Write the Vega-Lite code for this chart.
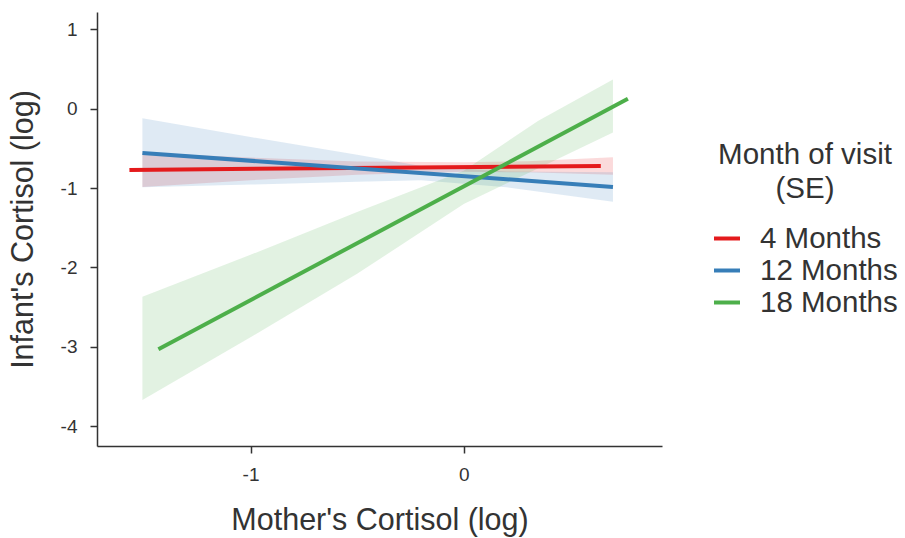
{
  "$schema": "https://vega.github.io/schema/vega-lite/v6.json",
  "autosize": {"type": "none"},
  "padding": {"left": 97, "top": 12, "right": 243, "bottom": 92},
  "width": 565,
  "height": 434,
  "background": "white",
  "config": {
    "font": "Liberation Sans",
    "view": {"stroke": null},
    "axis": {
      "grid": false,
      "domainColor": "#333333",
      "domainWidth": 1.5,
      "tickColor": "#333333",
      "tickWidth": 1.5,
      "tickSize": 7,
      "labelColor": "#333333",
      "labelFontSize": 19,
      "titleColor": "#333333",
      "titleFontSize": 30.5,
      "titleFontWeight": "normal"
    }
  },
  "datasets": {
    "lines": [
      {"month": "4 Months", "x": -1.568, "y": -0.77},
      {"month": "4 Months", "x": 0.643, "y": -0.72},
      {"month": "12 Months", "x": -1.507, "y": -0.556},
      {"month": "12 Months", "x": 0.70, "y": -0.985},
      {"month": "18 Months", "x": -1.432, "y": -3.03},
      {"month": "18 Months", "x": 0.77, "y": 0.126}
    ],
    "bands": [
      {"visit": "4 Months", "x": -1.507, "lo": -0.985, "hi": -0.555},
      {"visit": "4 Months", "x": -1.0, "lo": -0.90, "hi": -0.615},
      {"visit": "4 Months", "x": -0.5, "lo": -0.83, "hi": -0.665},
      {"visit": "4 Months", "x": 0.0, "lo": -0.795, "hi": -0.675},
      {"visit": "4 Months", "x": 0.3, "lo": -0.80, "hi": -0.66},
      {"visit": "4 Months", "x": 0.70, "lo": -0.83, "hi": -0.61},
      {"visit": "12 Months", "x": -1.507, "lo": -0.99, "hi": -0.12},
      {"visit": "12 Months", "x": -1.0, "lo": -0.955, "hi": -0.355},
      {"visit": "12 Months", "x": -0.5, "lo": -0.92, "hi": -0.58},
      {"visit": "12 Months", "x": -0.2, "lo": -0.90, "hi": -0.72},
      {"visit": "12 Months", "x": 0.2, "lo": -0.99, "hi": -0.79},
      {"visit": "12 Months", "x": 0.70, "lo": -1.17, "hi": -0.80},
      {"visit": "18 Months", "x": -1.507, "lo": -3.67, "hi": -2.37},
      {"visit": "18 Months", "x": -1.0, "lo": -2.88, "hi": -1.84},
      {"visit": "18 Months", "x": -0.5, "lo": -2.08, "hi": -1.30},
      {"visit": "18 Months", "x": 0.0, "lo": -1.20, "hi": -0.78},
      {"visit": "18 Months", "x": 0.35, "lo": -0.75, "hi": -0.15},
      {"visit": "18 Months", "x": 0.70, "lo": -0.30, "hi": 0.37}
    ]
  },
  "layer": [
    {
      "data": {"name": "bands"},
      "transform": [{"filter": "datum.visit === '4 Months'"}],
      "mark": {"type": "area", "opacity": 0.16, "color": "#E41A1C"},
      "encoding": {
        "x": {"field": "x", "type": "quantitative"},
        "y": {"field": "lo", "type": "quantitative"},
        "y2": {"field": "hi"}
      }
    },
    {
      "data": {"name": "bands"},
      "transform": [{"filter": "datum.visit === '12 Months'"}],
      "mark": {"type": "area", "opacity": 0.16, "color": "#377EB8"},
      "encoding": {
        "x": {"field": "x", "type": "quantitative"},
        "y": {"field": "lo", "type": "quantitative"},
        "y2": {"field": "hi"}
      }
    },
    {
      "data": {"name": "bands"},
      "transform": [{"filter": "datum.visit === '18 Months'"}],
      "mark": {"type": "area", "opacity": 0.16, "color": "#4DAF4A"},
      "encoding": {
        "x": {"field": "x", "type": "quantitative"},
        "y": {"field": "lo", "type": "quantitative"},
        "y2": {"field": "hi"}
      }
    },
    {
      "data": {"name": "lines"},
      "mark": {"type": "line", "strokeWidth": 4},
      "encoding": {
        "x": {
          "field": "x", "type": "quantitative",
          "scale": {"domain": [-1.72, 0.93], "nice": false, "zero": false},
          "axis": {"title": "Mother's Cortisol (log)", "values": [-1, 0], "labelExpr": "'' + datum.value", "labelPadding": 12, "titlePadding": 21}
        },
        "y": {
          "field": "y", "type": "quantitative",
          "scale": {"domain": [-4.25, 1.22], "nice": false, "zero": false},
          "axis": {"title": "Infant's Cortisol (log)", "values": [-4, -3, -2, -1, 0, 1], "labelExpr": "'' + datum.value", "labelPadding": 13, "titlePadding": 22}
        },
        "color": {
          "field": "month", "type": "nominal",
          "scale": {"domain": ["4 Months", "12 Months", "18 Months"], "range": ["#E41A1C", "#377EB8", "#4DAF4A"]},
          "legend": {
            "title": ["Month of visit", "(SE)"],
            "orient": "none",
            "legendX": 615,
            "legendY": 129,
            "titleFontSize": 29.5,
            "titleLineHeight": 34,
            "titleFontWeight": "normal",
            "titleColor": "#333333",
            "titleAnchor": "middle",
            "titleAlign": "center",
            "titlePadding": 19,
            "labelFontSize": 29.5,
            "labelColor": "#333333",
            "labelOffset": 18,
            "symbolType": "stroke",
            "symbolOpacity": 1,
            "symbolStrokeWidth": 4,
            "symbolSize": 676,
            "rowPadding": 2
          }
        },
        "order": {"field": "x", "type": "quantitative"}
      }
    }
  ]
}
